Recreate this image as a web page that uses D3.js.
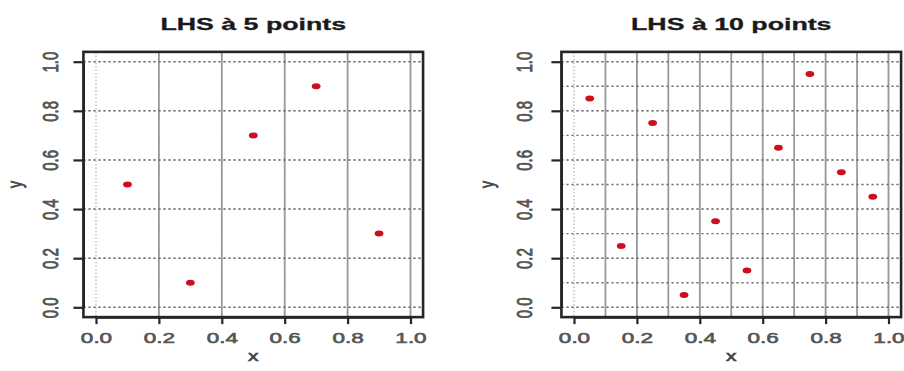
<!DOCTYPE html>
<html><head><meta charset="utf-8">
<script src="https://cdn.jsdelivr.net/npm/d3@7"></script>
<style>
html,body{margin:0;padding:0;background:#fff;}
svg{display:block;}
text{font-family:"Liberation Sans",Arial,sans-serif;}
</style></head>
<body>
<svg id="c" width="904" height="371"></svg>
<script>
// ---- data ----
const titles = ["LHS à 5 points", "LHS à 10 points"];
const strata = [5, 10];
const x5 = [0.1, 0.3, 0.5, 0.7, 0.9];
const y5 = [0.5, 0.1, 0.7, 0.9, 0.3];
const x10 = [0.05, 0.15, 0.25, 0.35, 0.45, 0.55, 0.65, 0.75, 0.85, 0.95];
const y10 = [0.85, 0.25, 0.75, 0.05, 0.35, 0.15, 0.65, 0.95, 0.55, 0.45];
const tickValues = [0, 0.2, 0.4, 0.6, 0.8, 1.0];
const tickLabels = ["0.0", "0.2", "0.4", "0.6", "0.8", "1.0"];
const xLabel = "x", yLabel = "y";

const svg = d3.select("#c");
const SX = 1.5; // horizontal stretch of the original picture

const panels = [
  {title: titles[0], n: strata[0], xs: x5, ys: y5, x0: 96, x1: 410.5, ylabX: 50, yTitleX: 16},
  {title: titles[1], n: strata[1], xs: x10, ys: y10, x0: 574, x1: 888.5, ylabX: 524, yTitleX: 488}
];

panels.forEach(p => {
  const x = d3.scaleLinear().domain([0, 1]).range([p.x0, p.x1]);
  const y = d3.scaleLinear().domain([0, 1]).range([307.3, 61.7]);
  const bx0 = x(-0.04), bx1 = x(1.04), by0 = y(-0.04), by1 = y(1.04);
  const g = svg.append("g");

  // grid() : light dotted at ticks
  g.selectAll(".gv").data(tickValues).join("line")
    .attr("x1", d => x(d)).attr("x2", d => x(d)).attr("y1", by1).attr("y2", by0)
    .attr("stroke", "#bdbdbd").attr("stroke-width", 1.4).attr("stroke-dasharray", "1.5,2");
  g.selectAll(".gh").data(tickValues).join("line")
    .attr("y1", d => y(d)).attr("y2", d => y(d)).attr("x1", bx0).attr("x2", bx1)
    .attr("stroke", "#c0c0c0").attr("stroke-width", 1.3).attr("stroke-dasharray", "2,3");

  // strata lines
  const vk = d3.range(1, p.n + 1).map(k => k / p.n);
  const hk = d3.range(0, p.n + 1).map(k => k / p.n);
  g.selectAll(".sv").data(vk).join("line")
    .attr("x1", d => x(d)).attr("x2", d => x(d)).attr("y1", by1).attr("y2", by0)
    .attr("stroke", "#9a9a9a").attr("stroke-width", 1.8);
  g.selectAll(".sh").data(hk).join("line")
    .attr("y1", d => y(d)).attr("y2", d => y(d)).attr("x1", bx0).attr("x2", bx1)
    .attr("stroke", "#6e6e6e").attr("stroke-width", 1.4).attr("stroke-dasharray", "2.2,2.8");

  // points
  g.selectAll(".pt").data(p.xs.map((v, i) => [v, p.ys[i]])).join("ellipse")
    .attr("cx", d => x(d[0])).attr("cy", d => y(d[1]))
    .attr("rx", 4.4).attr("ry", 3).attr("fill", "#cc0f1e");

  // box
  g.append("rect").attr("x", bx0).attr("y", by1).attr("width", bx1 - bx0).attr("height", by0 - by1)
    .attr("fill", "none").attr("stroke", "#262626").attr("stroke-width", 2.6);

  // x axis
  const xa = g.append("g").attr("transform", `translate(0,${by0})`)
    .call(d3.axisBottom(x).tickValues(tickValues).tickFormat((d, i) => tickLabels[i]).tickSize(7).tickSizeOuter(0));
  xa.select(".domain").attr("stroke", "#262626").attr("stroke-width", 2.2);
  xa.selectAll(".tick line").attr("stroke", "#262626").attr("stroke-width", 2.2);
  xa.selectAll(".tick text").attr("y", 0).attr("dy", 0)
    .attr("transform", `translate(0,25.5) scale(${SX},1)`)
    .attr("font-size", 15).attr("fill", "#555").attr("stroke", "#555").attr("stroke-width", 0.6)
    .attr("font-family", "Liberation Sans, Arial, sans-serif");

  // y axis
  const ya = g.append("g").attr("transform", `translate(${bx0},0)`)
    .call(d3.axisLeft(y).tickValues(tickValues).tickFormat((d, i) => tickLabels[i]).tickSize(10).tickSizeOuter(0));
  ya.select(".domain").attr("stroke", "#262626").attr("stroke-width", 2.2);
  ya.selectAll(".tick line").attr("stroke", "#262626").attr("stroke-width", 2.2);
  ya.selectAll(".tick text").attr("x", 0).attr("y", 0).attr("dy", "0.36em")
    .attr("text-anchor", "middle")
    .attr("transform", `translate(${p.ylabX - bx0},0) scale(${SX},1) rotate(-90)`)
    .attr("font-size", 15).attr("fill", "#555").attr("stroke", "#555").attr("stroke-width", 0.6)
    .attr("font-family", "Liberation Sans, Arial, sans-serif");

  // title
  const cx = (bx0 + bx1) / 2;
  g.append("text").attr("text-anchor", "middle")
    .attr("transform", `translate(${cx},30) scale(1.62,1)`)
    .attr("font-size", 16.5).attr("font-weight", "bold").attr("fill", "#1a1a1a")
    .attr("stroke", "#1a1a1a").attr("stroke-width", 0.3).text(p.title);

  // axis labels
  g.append("text").attr("text-anchor", "middle")
    .attr("transform", `translate(${cx},361) scale(${SX},1)`)
    .attr("font-size", 14).attr("fill", "#444").attr("stroke", "#444").attr("stroke-width", 0.6).text(xLabel);
  g.append("text").attr("text-anchor", "middle").attr("dy", "0.3em")
    .attr("transform", `translate(${p.yTitleX},${y(0.5)}) scale(${SX},1) rotate(-90)`)
    .attr("font-size", 14).attr("fill", "#444").attr("stroke", "#444").attr("stroke-width", 0.6).text(yLabel);
});
</script>
</body></html>
